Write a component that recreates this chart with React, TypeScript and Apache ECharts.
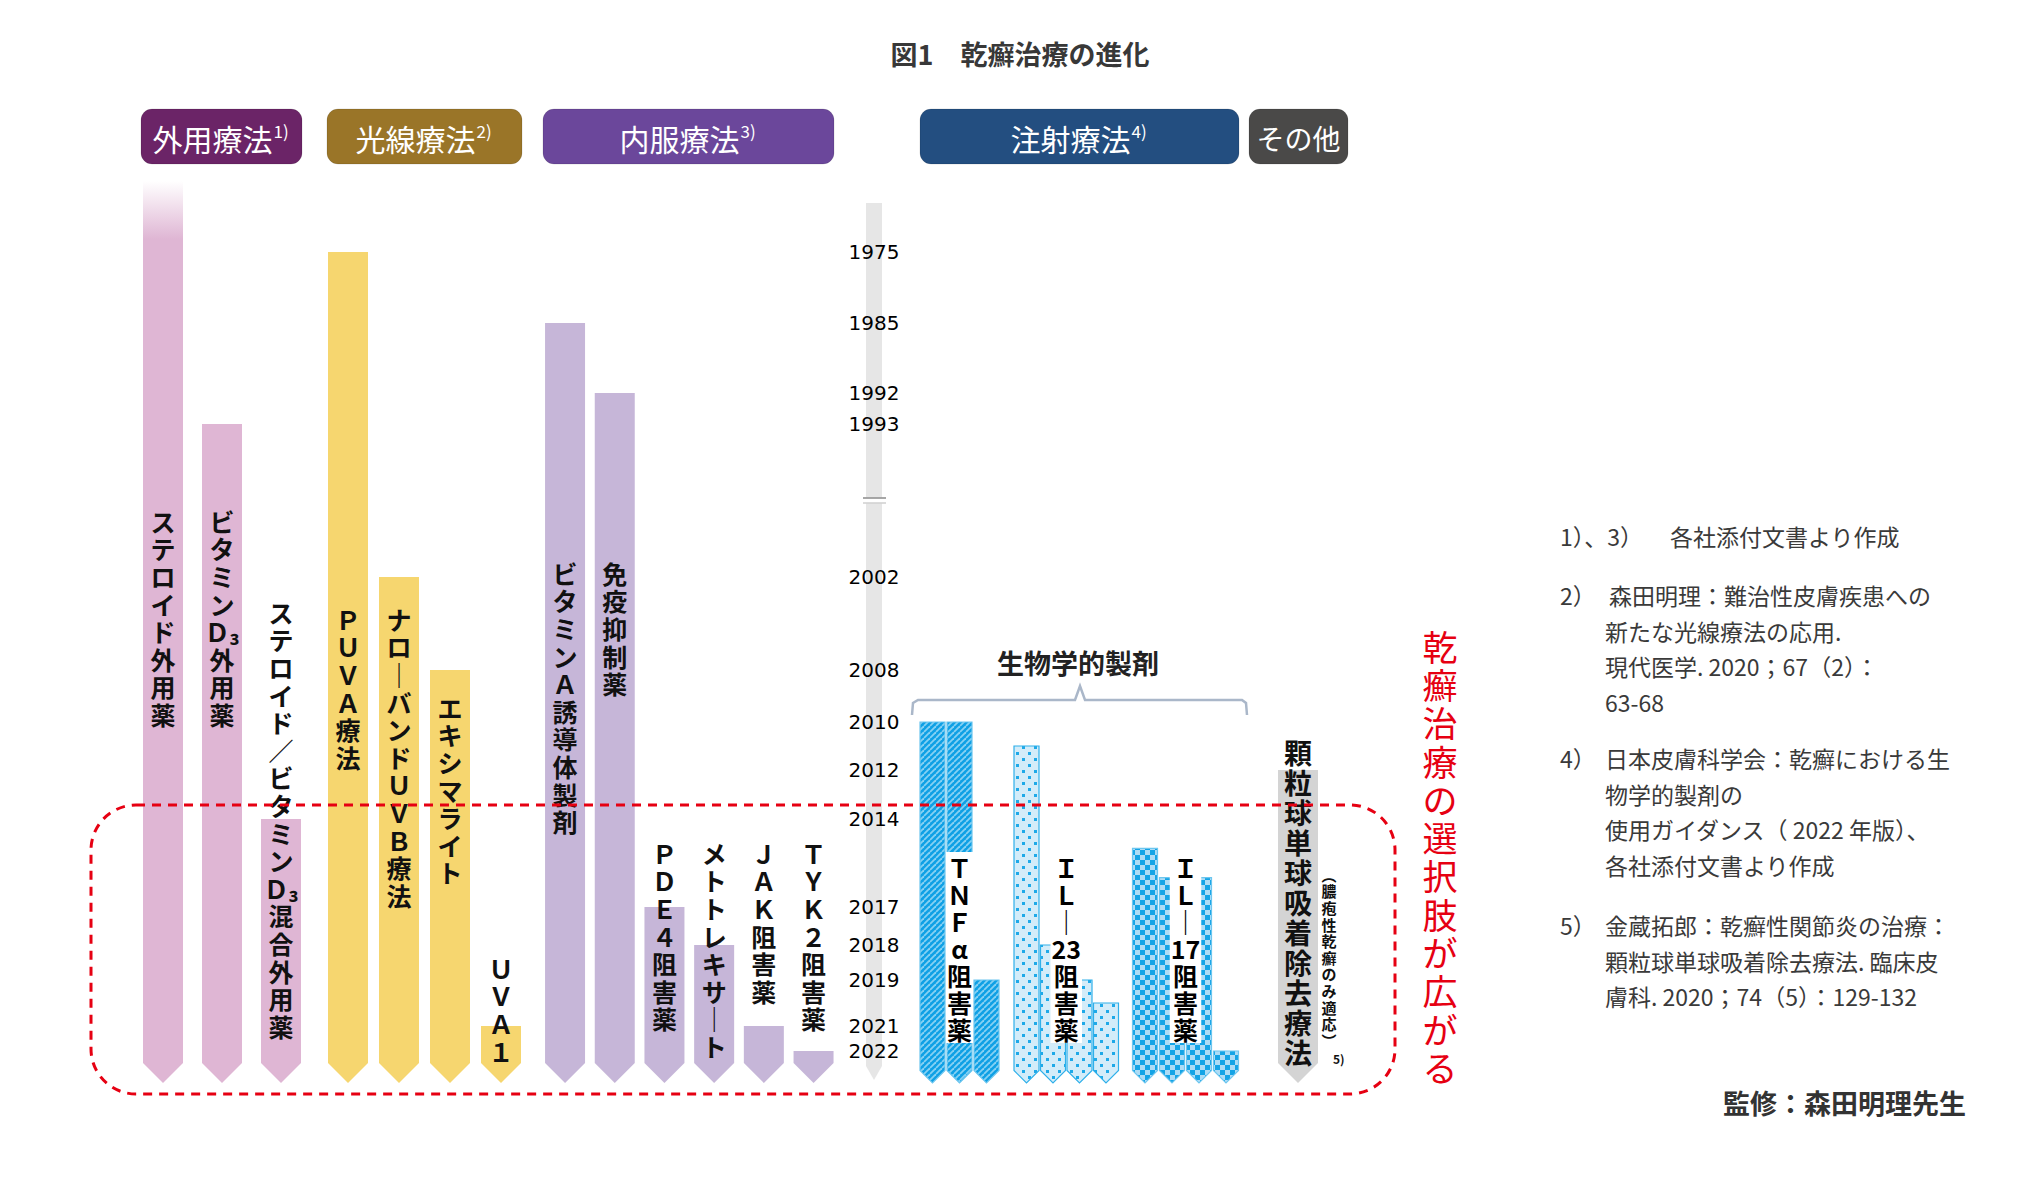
import { useEffect, useRef } from 'react';
import * as echarts from 'echarts';

// ---------------- data ----------------
const TITLE = '図1　乾癬治療の進化';
const YEAR_TICKS = [1975, 1985, 1992, 1993, 2002, 2008, 2010, 2012, 2014, 2017, 2018, 2019, 2021, 2022];

const HEADER_LABELS = ['外用療法', '光線療法', '内服療法', '注射療法', 'その他'];
const HEADER_REFS = ['1)', '2)', '3)', '4)', ''];

const TOPICAL_NAMES = ['ステロイド外用薬', 'ビタミンD₃外用薬', 'ステロイド/ビタミンD₃混合外用薬'];
const TOPICAL_START = [1965, 1993, 2014]; // first one: faded, before 1975

const PHOTO_NAMES = ['PUVA療法', 'ナローバンドUVB療法', 'エキシマライト', 'UVA1'];
const PHOTO_START = [1975, 2002, 2008, 2021];

const ORAL_NAMES = ['ビタミンA誘導体製剤', '免疫抑制薬', 'PDE4阻害薬', 'メトトレキサート', 'JAK阻害薬', 'TYK2阻害薬'];
const ORAL_START = [1985, 1992, 2017, 2018, 2021, 2022];

const BIO_TITLE = '生物学的製剤';
const TNF_LABEL = 'TNFα阻害薬';
const TNF_START = [2010, 2010, 2019];
const IL23_LABEL = 'IL-23阻害薬';
const IL23_START = [2011, 2018, 2019, 2020];
const IL17_LABEL = 'IL-17阻害薬';
const IL17_START = [2015, 2016, 2016, 2022];

const OTHER_NAMES = ['顆粒球単球吸着除去療法'];
const OTHER_NOTE = '（膿疱性乾癬のみ適応）';
const OTHER_NOTE_REF = '5)';
const OTHER_START = [2012];

const SLOGAN = '乾癬治療の選択肢が広がる';

const NOTE_NUMS = ['1）、3）', '2）', '4）', '5）'];
const NOTE_LINES = [
  ['各社添付文書より作成'],
  ['森田明理：難治性皮膚疾患への', '新たな光線療法の応用.', '現代医学. 2020；67（2）：', '63-68'],
  ['日本皮膚科学会：乾癬における生', '物学的製剤の', '使用ガイダンス（ 2022 年版）、', '各社添付文書より作成'],
  ['金蔵拓郎：乾癬性関節炎の治療：', '顆粒球単球吸着除去療法. 臨床皮', '膚科. 2020；74（5）：129-132'],
];
const SUPERVISOR = '監修：森田明理先生';

// ---------------- layout ----------------
const W = 2040;
const H = 1184;
const PLOT_TOP = 200;
const PLOT_H = 900;
// vertical position (px below plot top) of each year tick: the time axis is not linear
const TICK_OFFSETS = [52, 123, 193, 224, 377, 470, 522, 570, 619, 707, 745, 780, 826, 851];
const ARROW_TIP = 883;
const AXIS_TOP = 3;
const FONT_JP = '"Noto Sans CJK JP", "Noto Sans", sans-serif';

function yearToUnit(y: number): number {
  const n = YEAR_TICKS.length;
  if (y <= YEAR_TICKS[0]) {
    const s = (TICK_OFFSETS[1] - TICK_OFFSETS[0]) / (YEAR_TICKS[1] - YEAR_TICKS[0]);
    return TICK_OFFSETS[0] - (YEAR_TICKS[0] - y) * s;
  }
  for (let i = 0; i < n - 1; i++) {
    if (y <= YEAR_TICKS[i + 1]) {
      const t = (y - YEAR_TICKS[i]) / (YEAR_TICKS[i + 1] - YEAR_TICKS[i]);
      return TICK_OFFSETS[i] + t * (TICK_OFFSETS[i + 1] - TICK_OFFSETS[i]);
    }
  }
  const s = (TICK_OFFSETS[n - 1] - TICK_OFFSETS[n - 2]) / (YEAR_TICKS[n - 1] - YEAR_TICKS[n - 2]);
  return TICK_OFFSETS[n - 1] + (y - YEAR_TICKS[n - 1]) * s;
}

const isDigit = (c?: string) => !!c && c >= '0' && c <= '9';
const isLatin = (c: string) => /[A-Za-z]/.test(c);
const wide = (c: string) => String.fromCharCode(c.charCodeAt(0) + 0xfee0);

// one token per line for vertical (tategaki) labels
function toVertical(s: string): string {
  const map: Record<string, string> = { 'ー': '｜', '-': '｜', '（': '︵', '）': '︶', '/': '／' };
  const out: string[] = [];
  const chars = Array.from(s);
  for (let i = 0; i < chars.length; i++) {
    const c = chars[i];
    if (c === '₃' && out.length) { out[out.length - 1] += c; continue; }
    if (isDigit(c)) {
      let run = c;
      while (isDigit(chars[i + 1])) { run += chars[i + 1]; i++; }
      out.push(run.length === 1 ? wide(run) : run);
      continue;
    }
    if (isLatin(c)) { out.push(wide(c)); continue; }
    out.push(map[c] ?? c);
  }
  return out.join('\n');
}

function tile(w: number, h: number, draw: (ctx: CanvasRenderingContext2D) => void) {
  const c = document.createElement('canvas');
  c.width = w; c.height = h;
  const ctx = c.getContext('2d')!;
  draw(ctx);
  return { image: c.toDataURL(), repeat: 'repeat', imageWidth: w, imageHeight: h };
}

function vText(x: number, y: number, text: string, o: any = {}) {
  const style: any = {
    text,
    fill: o.fill || '#111',
    fontSize: o.fontSize || 25,
    fontFamily: FONT_JP,
    fontWeight: o.fontWeight || 'bold',
    lineHeight: o.lineHeight || 27.6,
    align: 'center',
    verticalAlign: 'top',
    textAlign: 'center',
    textVerticalAlign: 'top',
  };
  if (o.bg) { style.backgroundColor = o.bg; style.padding = [1, 1]; }
  return { type: 'text', x, y, z2: o.z2 || 10, style };
}

export default function App() {
  const ref = useRef<HTMLDivElement>(null);

  useEffect(() => {
    document.body.style.margin = '0';
    if (!ref.current) return;
    const chart = echarts.init(ref.current, undefined, { renderer: 'svg' });

    const stripe = tile(6, 6, (ctx) => {
      ctx.fillStyle = '#0fa0e5'; ctx.fillRect(0, 0, 6, 6);
      ctx.strokeStyle = '#86d1f3'; ctx.lineWidth = 1.8;
      for (const k of [-6, 0, 6]) { ctx.beginPath(); ctx.moveTo(k, 6); ctx.lineTo(k + 6, 0); ctx.stroke(); }
    });
    const dots = tile(12, 12, (ctx) => {
      ctx.fillStyle = '#d3ecf9'; ctx.fillRect(0, 0, 12, 12);
      ctx.fillStyle = '#1ea9e8';
      ctx.fillRect(2, 2, 3, 3); ctx.fillRect(8, 8, 3, 3);
    });
    const check = tile(10, 10, (ctx) => {
      ctx.fillStyle = '#aedcf5'; ctx.fillRect(0, 0, 10, 10);
      ctx.fillStyle = '#14a4e6'; ctx.fillRect(0, 0, 5, 5); ctx.fillRect(5, 5, 5, 5);
    });

    const groups: any[] = [
      { left: 133.5, width: 177, barW: 40, names: TOPICAL_NAMES, starts: TOPICAL_START, fill: '#dfb6d4', fade: true, labelTops: [507, 507, 598] },
      { left: 322.5, width: 204, barW: 40, names: PHOTO_NAMES, starts: PHOTO_START, fill: '#f6d66f', labelTops: [605, 605, 693, 954] },
      { left: 540.2, width: 298.2, barW: 40, names: ORAL_NAMES, starts: ORAL_START, fill: '#c6b6d8', labelTops: [559, 559, 839, 839, 839, 839] },
      { left: 919, width: 81, barW: 25, names: TNF_START.map((_, i) => TNF_LABEL + i), starts: TNF_START, fill: stripe, stroke: '#6cc6ef', groupLabel: TNF_LABEL },
      { left: 1013.25, width: 106, barW: 25, names: IL23_START.map((_, i) => IL23_LABEL + i), starts: IL23_START, fill: dots, stroke: '#2fb0ea', groupLabel: IL23_LABEL },
      { left: 1131.5, width: 108, barW: 25, names: IL17_START.map((_, i) => IL17_LABEL + i), starts: IL17_START, fill: check, stroke: '#6cc6ef', groupLabel: IL17_LABEL },
      { left: 1278, width: 40, barW: 40, names: OTHER_NAMES, starts: OTHER_START, fill: '#d4d4d4', labelTops: [737], labelSize: 28, labelLH: 30, note: true },
    ];
    const axisIdx = groups.length;

    const grid: any[] = groups.map((g) => ({ left: g.left, width: g.width, top: PLOT_TOP, height: PLOT_H }));
    grid.push({ left: 866, width: 16, top: PLOT_TOP, height: PLOT_H });

    const xAxis: any[] = groups.map((g, i) => ({ type: 'category', gridIndex: i, data: g.names, show: false }));
    xAxis.push({ type: 'category', gridIndex: axisIdx, data: ['年'], show: false });

    const yAxis: any[] = groups.map((_, i) => ({ type: 'value', gridIndex: i, min: 0, max: PLOT_H, inverse: true, show: false }));
    yAxis.push({
      type: 'value', gridIndex: axisIdx, min: 0, max: PLOT_H, inverse: true, z: 10,
      axisLine: { show: false }, axisTick: { show: false }, splitLine: { show: false },
      axisLabel: {
        show: true,
        customValues: YEAR_TICKS.map(yearToUnit),
        formatter: (v: number) => {
          const i = YEAR_TICKS.findIndex((y) => Math.abs(yearToUnit(y) - v) < 0.01);
          return i >= 0 ? String(YEAR_TICKS[i]) : '';
        },
        align: 'center', margin: -8, color: '#000', fontFamily: '"DejaVu Sans", sans-serif', fontSize: 20,
      },
    });

    const series: any[] = [];
    groups.forEach((g, gi) => {
      series.push({
        type: 'custom', xAxisIndex: gi, yAxisIndex: gi, z: 2, clip: false,
        data: g.starts.map((y: number, i: number) => [i, yearToUnit(y)]),
        renderItem: (params: any, api: any) => {
          const i = api.value(0);
          const p = api.coord([i, api.value(1)]);
          const xc = p[0]; const yTop = p[1];
          const yTip = api.coord([i, ARROW_TIP])[1];
          const h = g.barW / 2;
          const yBody = yTip - h;
          let fill: any = g.fill;
          if (g.fade && params.dataIndex === 0) {
            const f = 58 / (yTip - yTop);
            fill = new echarts.graphic.LinearGradient(0, 0, 0, 1, [
              { offset: 0, color: 'rgba(223,182,212,0)' },
              { offset: f, color: g.fill },
              { offset: 1, color: g.fill },
            ]);
          }
          const children: any[] = [{
            type: 'polygon', z2: 1,
            shape: { points: [[xc - h, yTop], [xc + h, yTop], [xc + h, yBody], [xc, yTip], [xc - h, yBody]] },
            style: { fill, stroke: g.stroke || null, lineWidth: g.stroke ? 1.2 : 0 },
          }];
          if (g.labelTops) {
            const name = g.names[params.dataIndex];
            children.push(vText(xc, g.labelTops[params.dataIndex], toVertical(name), {
              fontSize: g.labelSize || 25, lineHeight: g.labelLH || 27.6,
            }));
          }
          if (g.note) {
            children.push(vText(xc + 31, 866, toVertical(OTHER_NOTE), { fontSize: 15, lineHeight: 16.6 }));
            children.push({
              type: 'text', x: xc + 35, y: 1052, z2: 10,
              style: { text: OTHER_NOTE_REF, fill: '#111', fontSize: 12, fontFamily: FONT_JP, fontWeight: 'bold', align: 'left', verticalAlign: 'top', textAlign: 'left', textVerticalAlign: 'top' },
            });
          }
          return { type: 'group', children };
        },
      });
      if (g.groupLabel) {
        const n = g.starts.length;
        series.push({
          type: 'custom', xAxisIndex: gi, yAxisIndex: gi, z: 5, clip: false,
          data: [[0, 0]],
          renderItem: (_p: any, api: any) => {
            const x0 = api.coord([0, 0])[0];
            const x1 = api.coord([n - 1, 0])[0];
            const xc = (x0 + x1) / 2;
            return vText(xc, 852, toVertical(g.groupLabel), { fill: '#000', lineHeight: 27, bg: '#ffffff' });
          },
        });
      }
    });

    // time axis column
    series.push({
      type: 'custom', xAxisIndex: axisIdx, yAxisIndex: axisIdx, z: 1, clip: false,
      data: [[0, AXIS_TOP]],
      renderItem: (_p: any, api: any) => {
        const p = api.coord([0, api.value(1)]);
        const xc = p[0]; const yTop = p[1];
        const yTip = api.coord([0, ARROW_TIP - 3])[1];
        const h = 8;
        const yBreak = api.coord([0, yearToUnit((1993 + 2002) / 2)])[1];
        return {
          type: 'group', children: [
            { type: 'polygon', shape: { points: [[xc - h, yTop], [xc + h, yTop], [xc + h, yTip - 14], [xc, yTip], [xc - h, yTip - 14]] }, style: { fill: '#e6e6e6' } },
            { type: 'rect', shape: { x: xc - 12, y: yBreak - 3, width: 24, height: 6 }, style: { fill: '#ffffff' } },
            { type: 'line', shape: { x1: xc - 11, y1: yBreak - 2.5, x2: xc + 12, y2: yBreak - 2.5 }, style: { stroke: '#8a8a8a', lineWidth: 1.5 } },
            { type: 'line', shape: { x1: xc - 11, y1: yBreak + 2.5, x2: xc + 12, y2: yBreak + 2.5 }, style: { stroke: '#c4c4c4', lineWidth: 1.2 } },
          ],
        };
      },
    });

    // ------------- graphic decorations -------------
    const graphics: any[] = [];
    graphics.push({
      type: 'text', x: W / 2, y: 53, style: {
        text: TITLE, fill: '#383838', fontSize: 27, fontWeight: 'bold', fontFamily: FONT_JP,
        align: 'center', verticalAlign: 'middle', textAlign: 'center', textVerticalAlign: 'middle',
      },
    });

    const HEADER_BOX = [
      { x: 141, w: 161, color: '#6b2467' },
      { x: 327, w: 195, color: '#9a7528' },
      { x: 543, w: 291, color: '#6b479b' },
      { x: 920, w: 319, color: '#234e80' },
      { x: 1249, w: 99, color: '#4a4948' },
    ];
    HEADER_LABELS.forEach((label, i) => {
      const b = HEADER_BOX[i];
      const ref = HEADER_REFS[i];
      const fs = ref ? 30 : 28;
      const mainW = label.length * fs;
      const supW = ref ? 18 : 0;
      const cx = b.x + b.w / 2;
      const sx = cx - (mainW + supW) / 2;
      const cy = 136.5;
      graphics.push({ type: 'rect', shape: { x: b.x, y: 109, width: b.w, height: 55, r: 11 }, style: { fill: b.color, stroke: 'rgba(0,0,0,0.12)', lineWidth: 1 } });
      graphics.push({
        type: 'text', x: sx, y: cy + 1, style: {
          text: label, fill: '#ffffff', fontSize: fs, fontFamily: FONT_JP,
          align: 'left', verticalAlign: 'middle', textAlign: 'left', textVerticalAlign: 'middle',
        },
      });
      if (ref) {
        graphics.push({
          type: 'text', x: sx + mainW + 1, y: cy - 6, style: {
            text: ref, fill: '#ffffff', fontSize: 17, fontFamily: FONT_JP,
            align: 'left', verticalAlign: 'middle', textAlign: 'left', textVerticalAlign: 'middle',
          },
        });
      }
    });

    // bracket for biologics
    graphics.push({
      type: 'polyline', z: 50,
      shape: { points: [[912, 715], [913, 703], [918, 700], [1075, 700], [1080, 686], [1085, 700], [1242, 700], [1246, 703], [1247, 715]] },
      style: { stroke: '#aab7c9', lineWidth: 2.5, fill: null },
    });
    graphics.push({
      type: 'text', x: 1078, y: 662, style: {
        text: BIO_TITLE, fill: '#222', fontSize: 27, fontWeight: 'bold', fontFamily: FONT_JP,
        align: 'center', verticalAlign: 'middle', textAlign: 'center', textVerticalAlign: 'middle',
      },
    });

    // dashed highlight frame
    graphics.push({
      type: 'rect', z: 100,
      shape: { x: 91, y: 805, width: 1304, height: 289, r: 45 },
      style: { fill: null, stroke: '#e60012', lineWidth: 3, lineDash: [9, 7] },
    });

    // slogan
    graphics.push({
      type: 'text', x: 1440, y: 626, style: {
        text: Array.from(SLOGAN).join('\n'), fill: '#e60012', fontSize: 35, lineHeight: 38.3, fontFamily: FONT_JP,
        align: 'center', verticalAlign: 'top', textAlign: 'center', textVerticalAlign: 'top',
      },
    });

    // references
    const NOTE_TOP = [536, 595, 758, 925];
    const NOTE_FIRST_X = [1670, 1609, 1605, 1605];
    const noteStyle = (text: string) => ({
      text, fill: '#3a3a3a', fontSize: 23, fontFamily: FONT_JP,
      align: 'left', verticalAlign: 'middle', textAlign: 'left', textVerticalAlign: 'middle',
    });
    NOTE_NUMS.forEach((num, i) => {
      graphics.push({ type: 'text', x: 1560, y: NOTE_TOP[i], style: noteStyle(num) });
      NOTE_LINES[i].forEach((line, j) => {
        graphics.push({ type: 'text', x: j === 0 ? NOTE_FIRST_X[i] : 1605, y: NOTE_TOP[i] + j * 35.5, style: noteStyle(line) });
      });
    });
    graphics.push({
      type: 'text', x: 1966, y: 1102, style: {
        text: SUPERVISOR, fill: '#333', fontSize: 27, fontWeight: 'bold', fontFamily: FONT_JP,
        align: 'right', verticalAlign: 'middle', textAlign: 'right', textVerticalAlign: 'middle',
      },
    });

    chart.setOption({
      animation: false,
      backgroundColor: '#ffffff',
      grid, xAxis, yAxis, series,
      graphic: { elements: graphics },
    });

    return () => chart.dispose();
  }, []);

  return <div ref={ref} style={{ position: 'absolute', left: 0, top: 0, width: W, height: H }} />;
}
